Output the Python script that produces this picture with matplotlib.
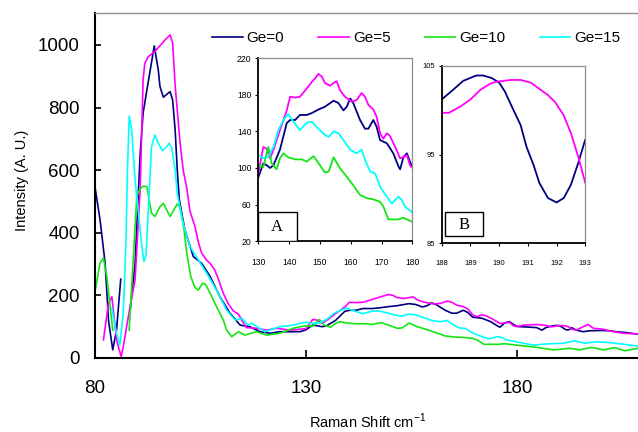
import numpy as np
import matplotlib.pyplot as plt
from matplotlib.patches import Rectangle

plt.rcParams['font.family'] = ['Liberation Sans', 'DejaVu Sans']

nan = np.nan

# Raman spectra, Raman shift (cm-1) vs intensity (a.u.)
x_ge0 = [80, 81.2, 82.4, 83.2, 84.2, 85.1, 86.1, nan,
         88.3, 89.5, 90.7, 91.4, 92.3, 94.05, 95.0, 95.4, 96.2, 97.8, 98.4,
         99.0, 99.5, 100.0, 101.3, 103.3, 105.3, 107.3, 109.6, 112.0, 114.4, 116.7,
         119.1, 121.5, 123.8, 126.5, 128.6,
         130, 131.6, 132.7, 133.8, 134.9, 137.0, 139.2, 140.3, 141.9, 143.5, 145.7,
         147.3, 149.5, 151.6, 154.4, 156.0, 157.6, 158.7, 159.8, 160.8, 163.0, 164.6,
         165.7, 167.3, 168.4, 169.5, 171.7, 173.8, 175.5, 176.0, 177.1, 178.2, 179.2,
         180, 180.7, 182.5, 184.7, 185.9, 187.0,
         188.0, 188.4, 188.75, 189.2, 189.45, 189.75, 190.0, 190.2, 190.5, 190.75,
         190.95, 191.2, 191.4, 191.7, 192.0, 192.25, 192.5, 192.75, 193.0,
         194.1, 195.7, 197.3, 200.0, 202.0, 203.6, 206.0, 208.7]
y_ge0 = [546, 441, 303, 121, 26, 89, 252, nan,
         150, 300, 650, 782, 856, 997, 920, 867, 833, 851, 824,
         728, 600, 505, 409, 324, 302, 260, 196, 143, 105, 100,
         84, 79, 84, 84, 84,
         90, 105, 103, 100, 103, 120, 149, 152.5, 152.5, 158, 158,
         160, 164, 167, 173.6, 171, 163, 167, 176, 171, 152.5, 143,
         143, 152.5, 145, 130.5, 127, 116, 101.5, 98.5, 112, 116, 107,
         101, 100, 99, 97, 89, 98,
         101.2, 102.3, 103.3, 103.9, 103.9, 103.6, 103.1, 102.1, 100.0, 98.3,
         95.9, 93.8, 91.8, 90.1, 89.6, 90.1, 91.6, 94.0, 96.7,
         89, 84, 87, 88, 87, 84, 81, 76]

x_ge5 = [82.0, 83.2, 84.0, 85.1, 86.2, 86.7, 88.3, 89.5, 90.7, 91.4, 91.8, 92.6,
         94.2, 96.6, 97.8, 98.4, 99.0, 99.7, 100.1, 100.9, 101.7, 102.5, 103.7,
         104.5, 105.3, 106.5, 107.3, 108.4, 109.3, 110.4, 111.5, 112.8, 114.0,
         114.8, 115.9, 118.3, 120.7, 123.1, 126.2, 128.5,
         130, 131.6, 132.7, 133.8, 134.9, 137.0, 139.2, 140.3, 141.9, 143.5, 145.7,
         147.3, 148.4, 149.5, 150.6, 151.6, 153.3, 154.4, 155.4, 156.5, 158.1,
         160.3, 161.9, 163.5, 164.6, 165.7, 167.3, 168.4, 169.5, 170.6, 171.7,
         172.7, 174.4, 176.0, 177.1, 178.2, 179.2, 180,
         181.5, 184.7, 187.0,
         188.0, 188.25, 188.65, 189.0, 189.35, 189.7, 189.9, 190.4, 190.75, 191.1,
         191.4, 191.7, 191.95, 192.25, 192.5, 192.75, 193.0,
         194.1, 195.7, 196.9, 198.1, 200.4, 202.8, 205.2, 208.7]
y_ge5 = [58, 175, 196, 58, 4, 36, 164, 249, 537, 888, 941, 962,
         979, 1016, 1032, 1006, 870, 760, 696, 600, 547, 470, 419,
         370, 334, 312, 302, 281, 250, 207, 175, 150, 140,
         121, 97, 95, 89, 95, 89, 92,
         94, 123, 121, 110.5, 120, 141.5, 163, 178, 177, 178, 187,
         194, 198, 203, 200, 193, 190, 193, 195, 185, 178,
         172.5, 174.4, 182, 178, 169, 164, 156, 138, 132, 138,
         135, 123, 110.5, 112, 114, 103, 100,
         105, 107, 104,
         99.7, 99.7, 100.4, 101.2, 102.3, 103.0, 103.2, 103.4, 103.4, 103.1,
         102.4, 101.7, 100.9, 99.4, 97.4, 94.8, 91.8,
         89, 100, 107, 95, 92, 84, 79, 77]

x_ge10 = [80, 81.2, 82.0, 82.8, 83.6, 84.2, nan,
          88.1, 89.0, 89.9, 90.7, 91.5, 92.3, 93.4, 94.2, 95.4, 96.2, 97.8, 99.5,
          100.1, 101.0, 101.8, 102.7, 103.7, 104.5, 105.5, 106.2, 107.3, 108.8,
          110.4, 111.2, 112.4, 114.0, 115.5, 118.3, 120.7, 123.8, 127.0, 128.6,
          130, 131.6, 133.2, 134.3, 135.9, 137.0, 138.1, 139.7, 141.9, 144.1, 145.7,
          147.9, 150.0, 151.6, 152.8, 154.4, 156.5, 158.7, 160.8, 163.0, 165.2,
          167.3, 169.5, 170.6, 172.2, 173.8, 175.5, 177.1, 180,
          184.7, 188.6, 191.0, 192.6, 194.9, 197.7, 200.5, 203.2, 205.6, 208.7]
y_ge10 = [212, 303, 319, 260, 164, 89, nan,
          89, 300, 515, 542, 549, 547, 462, 452, 483, 494, 452, 492,
          483, 420, 330, 260, 225, 217, 239, 235, 207, 164,
          121, 89, 68, 84, 73, 84, 73, 79, 95, 100,
          103, 101, 123, 105, 98.5, 110.5, 116, 111.6, 109.4, 109.4, 107,
          113, 103, 95, 96, 111.6, 99.6, 90.4, 81, 70.4, 67,
          65.6, 63, 57.6, 43.7, 43.7, 43.7, 45.5, 41,
          34, 26, 29, 31, 26, 34, 26, 33, 23, 31]

x_ge15 = [84.0, 85.1, 85.9, 86.7, 87.3, 87.7, 88.1, 88.7, 89.5, 90.3, 91.1, 91.6,
          92.1, 92.6, 93.0, 93.4, 94.2, 95.0, 96.0, 97.0, 97.6, 98.2, 99.0, 99.5,
          100.9, 102.5, 104.5, 106.5, 108.8, 111.2, 113.2, 114.8, 116.3, 117.1,
          120.3, 123.8, 127.0, 128.6,
          130, 131.6, 133.2, 134.9, 136.5, 138.1, 139.7, 141.4, 143.5, 145.7, 147.3,
          149.5, 151.6, 152.8, 154.4, 156.0, 157.6, 159.8, 161.9, 163.5, 164.6,
          166.3, 167.9, 169.5, 171.7, 173.3, 174.4, 175.5, 176.5, 177.6, 180,
          183.9, 187.0, 191.0, 193.7, 196.1, 198.9, 202.0, 205.2, 208.7]
y_ge15 = [159, 79, 42, 143, 356, 600, 773, 728, 569, 462, 356, 308,
          330, 462, 569, 675, 712, 686, 662, 675, 686, 670, 600, 526,
          430, 356, 313, 270, 217, 153, 121, 127, 105, 111,
          84, 100, 105, 111,
          114, 110.5, 112, 123, 141.5, 152.5, 159, 150.5, 141.5, 149.5, 150.5,
          143, 136, 134, 140, 138, 130.5, 120, 116, 120, 109,
          96, 94, 79.5, 68.5, 61, 65, 68.5, 65, 57.6, 51.4,
          41, 45, 47, 55, 47, 52, 49, 44, 38]

labels = ['Ge=0', 'Ge=5', 'Ge=10', 'Ge=15']
colors = ['#000080', '#ff00ff', '#14e614', '#00ffff']
series = [(x_ge0, y_ge0), (x_ge5, y_ge5), (x_ge10, y_ge10), (x_ge15, y_ge15)]

fig = plt.figure(figsize=(6.38, 4.32), dpi=100)
ax = fig.add_axes([0.1489, 0.1713, 0.8511, 0.7986])

for (xs, ys), c, lab in zip(series, colors, labels):
    ax.plot(xs, ys, color=c, lw=1.2, label=lab)

ax.set_xlim(80, 208.7)
ax.set_ylim(0, 1102)
ax.set_xticks([80, 130, 180])
ax.set_yticks([0, 200, 400, 600, 800, 1000])
ax.tick_params(axis='both', direction='in', labelsize=13.5, width=1.2)
ax.tick_params(axis='x', length=6, pad=16)
ax.tick_params(axis='y', length=4, pad=11)
ax.spines['right'].set_visible(False)
ax.spines['top'].set_color('#909090')
ax.spines['top'].set_linewidth(1.0)
ax.spines['left'].set_linewidth(1.5)
ax.spines['bottom'].set_linewidth(1.5)

fig.text(21.7 / 638, 1 - 180 / 432, 'Intensity (A. U.)', rotation=90,
         ha='center', va='center', fontsize=10.5)
fig.text(368 / 638, 1 - 421 / 432, r'Raman Shift cm$^{\mathregular{-1}}$',
         ha='center', va='center', fontsize=10.5)

fig.legend(loc='center left', bbox_to_anchor=(212 / 638, 1 - 38.3 / 432),
           ncol=4, frameon=False, fontsize=11, handlelength=2.0,
           handletextpad=0.25, columnspacing=2.25, borderpad=0, borderaxespad=0)


def frame(a):
    a.spines['left'].set_color('black')
    a.spines['bottom'].set_color('black')
    a.spines['left'].set_linewidth(1.3)
    a.spines['bottom'].set_linewidth(1.3)
    a.spines['top'].set_color('#8c8c8c')
    a.spines['right'].set_color('#8c8c8c')
    a.spines['top'].set_linewidth(0.9)
    a.spines['right'].set_linewidth(0.9)


# inset A: 130-180 region
axa = fig.add_axes([0.405, 0.442, 0.2414, 0.423])
for (xs, ys), c in zip(series, colors):
    axa.plot(xs, ys, color=c, lw=1.3)
axa.set_xlim(130, 180)
axa.set_ylim(20, 220)
axa.set_xticks([130, 140, 150, 160, 170, 180])
axa.set_yticks([20, 60, 100, 140, 180, 220])
axa.tick_params(axis='both', direction='out', length=2, labelsize=6.2)
axa.tick_params(axis='x', pad=10)
axa.tick_params(axis='y', pad=3)
frame(axa)
axa.add_patch(Rectangle((0, 0), 0.251, 0.159, transform=axa.transAxes,
                        facecolor='white', edgecolor='black', lw=1.0, zorder=5))
axa.text(0.121, 0.077, 'A', transform=axa.transAxes, ha='center', va='center',
         fontsize=12, family=['Liberation Serif', 'DejaVu Serif'], zorder=6)

# inset B: 188-193 region, Ge=0 and Ge=5
axb = fig.add_axes([0.6923, 0.4368, 0.2251, 0.411])
for (xs, ys), c in zip(series[:2], colors[:2]):
    axb.plot(xs, ys, color=c, lw=1.3)
axb.set_xlim(188, 193)
axb.set_ylim(85, 105)
axb.set_xticks([188, 189, 190, 191, 192, 193])
axb.set_yticks([85, 95, 105])
axb.tick_params(axis='both', direction='out', length=2, labelsize=5.5)
axb.tick_params(axis='x', pad=10)
axb.tick_params(axis='y', pad=3)
frame(axb)
axb.add_patch(Rectangle((0.023, 0.041), 0.265, 0.135, transform=axb.transAxes,
                        facecolor='white', edgecolor='black', lw=1.0, zorder=5))
axb.text(0.155, 0.103, 'B', transform=axb.transAxes, ha='center', va='center',
         fontsize=12, family=['Liberation Serif', 'DejaVu Serif'], zorder=6)

fig.savefig('out.png', dpi=100)
